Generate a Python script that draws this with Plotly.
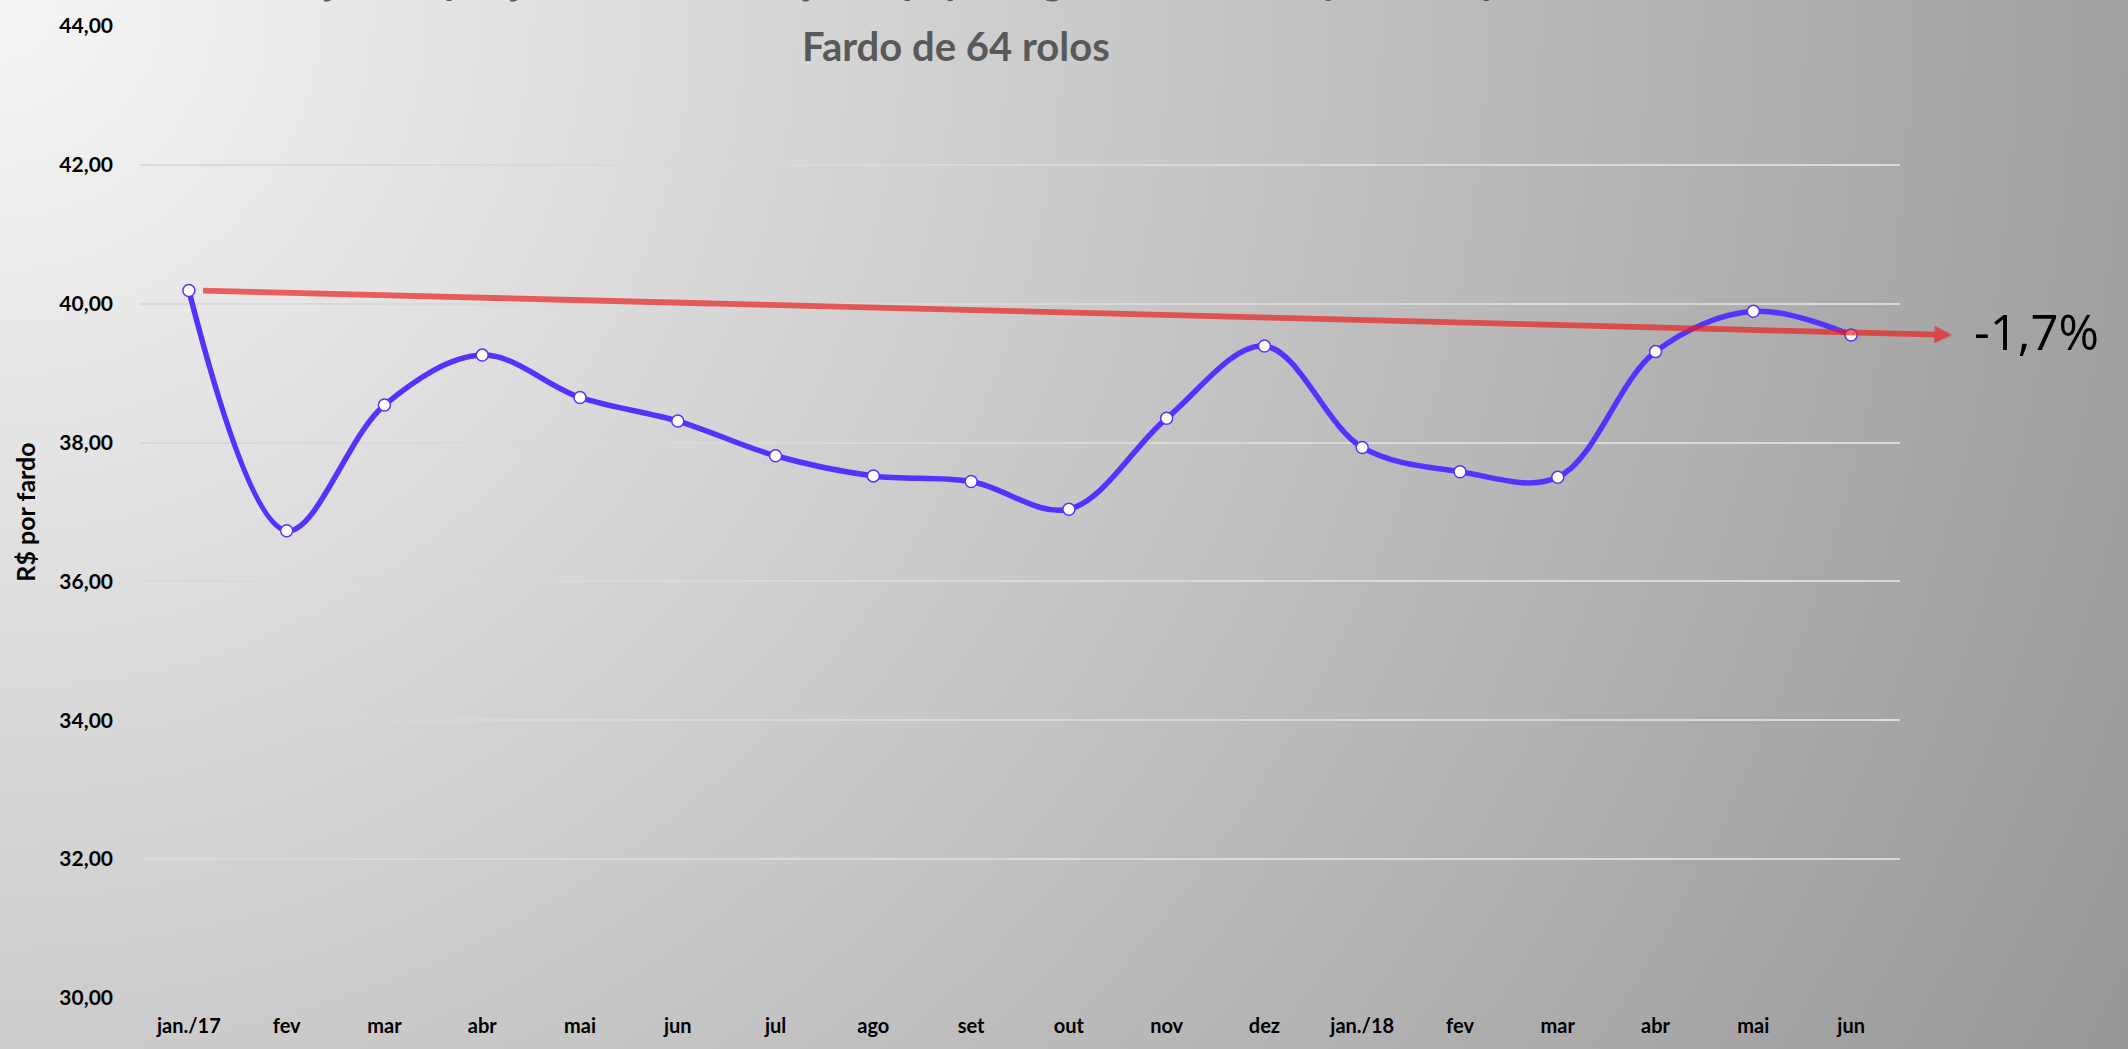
import base64
import plotly.graph_objects as go

# ---- data ----
month_labels = ["jan./17", "fev", "mar", "abr", "mai", "jun", "jul", "ago", "set",
                "out", "nov", "dez", "jan./18", "fev", "mar", "abr", "mai", "jun"]
price_per_bale = [40.19, 36.73, 38.54, 39.26, 38.65, 38.31, 37.81, 37.52, 37.44,
                  37.04, 38.35, 39.39, 37.93, 37.58, 37.50, 39.31, 39.89, 39.55]
y_tick_values = [30, 32, 34, 36, 38, 40, 42, 44]
y_tick_labels = ["30,00", "32,00", "34,00", "36,00", "38,00", "40,00", "42,00", "44,00"]
change_label = "-1,7%"
title_line1 = "Evolução do preço médio de varejo do papel higiênico folha dupla no supermercado"
title_line2 = "Fardo de 64 rolos"
y_title = "R$ por fardo"

# ---- layout geometry (pixels) ----
W, H = 2128, 1049
ML, MR, MT, MB = 140, 228, 20, 42
PW, PH = W - ML - MR, H - MT - MB
PAD = 20  # background image overhang

x_idx = list(range(len(month_labels)))

# radial gradient background as an inline svg image
BW, BH = W + 2 * PAD, H + 2 * PAD
svg = (f'<svg xmlns="http://www.w3.org/2000/svg" width="{BW}" height="{BH}" '
       f'viewBox="0 0 {BW} {BH}" preserveAspectRatio="none">'
       f'<defs><radialGradient id="g" cx="{PAD}" cy="{PAD}" r="2372" gradientUnits="userSpaceOnUse">'
       '<stop offset="0" stop-color="#f6f6f6"/><stop offset="1" stop-color="#979797"/>'
       '</radialGradient></defs>'
       f'<rect width="{BW}" height="{BH}" fill="url(#g)"/></svg>')
bg_src = "data:image/svg+xml;base64," + base64.b64encode(svg.encode()).decode()

fig = go.Figure()
fig.add_trace(go.Scatter(
    x=x_idx, y=price_per_bale, mode="lines+markers",
    line=dict(color="#5533FF", width=5.5, shape="spline", smoothing=1.0),
    marker=dict(size=12, color="white", line=dict(color="#5533FF", width=1.5)),
    cliponaxis=False, showlegend=False,
))

def px_to_paper_x(px):
    return (px - ML) / PW

def px_to_paper_y(py):
    return (H - MB - py) / PH

title_font = dict(family="Lato", size=40, color="#595959", weight="bold")
annotations = [
    # trend arrow from first to last value
    dict(x=len(month_labels) - 1 + 1.03, y=price_per_bale[-1],
         ax=0.13, ay=price_per_bale[0],
         xref="x", yref="y", axref="x", ayref="y",
         text="", showarrow=True, arrowhead=2, arrowsize=0.6, arrowwidth=5.8,
         arrowcolor="rgba(236,28,28,0.68)", standoff=0, startstandoff=0),
    dict(x=px_to_paper_x(1972), y=px_to_paper_y(330), xref="paper", yref="paper",
         xanchor="left", yanchor="middle", text=change_label, showarrow=False,
         font=dict(family="Open Sans", size=49, color="black")),
    dict(x=px_to_paper_x(956), y=px_to_paper_y(-28), xref="paper", yref="paper",
         xanchor="center", yanchor="middle", text=title_line1, showarrow=False,
         font=title_font),
    dict(x=px_to_paper_x(956), y=px_to_paper_y(40), xref="paper", yref="paper",
         xanchor="center", yanchor="middle", text=title_line2, showarrow=False,
         font=title_font),
]

fig.update_layout(
    width=W, height=H,
    margin=dict(l=ML, r=MR, t=MT, b=MB),
    paper_bgcolor="#c0c0c0",
    plot_bgcolor="rgba(0,0,0,0)",
    images=[dict(source=bg_src, xref="paper", yref="paper",
                 x=px_to_paper_x(-PAD), y=px_to_paper_y(-PAD),
                 sizex=BW / PW, sizey=BH / PH,
                 xanchor="left", yanchor="top", sizing="stretch", layer="below")],
    annotations=annotations,
    xaxis=dict(range=[-0.5, len(month_labels) - 0.5], tickvals=x_idx, ticktext=month_labels,
               showgrid=False, zeroline=False, showline=False, ticks="",
               ticklabelstandoff=14,
               tickfont=dict(family="Lato", size=20, color="black", weight="bold")),
    yaxis=dict(range=[30, 44], tickvals=y_tick_values, ticktext=y_tick_labels,
               showgrid=True, gridcolor="#d9d9d9", gridwidth=2,
               zeroline=False, showline=False, ticks="", ticklabelstandoff=26,
               tickfont=dict(family="Lato", size=21, color="black", weight="bold"),
               title=dict(text=y_title, standoff=16,
                          font=dict(family="Lato", size=25, color="black", weight="bold"))),
)

fig.write_html(
    "out.html",
    config={"displayModeBar": False},
    post_script=("document.body.style.margin='0';document.body.style.overflow='hidden';"
                 "document.body.style.background='#b4b4b4';"
                 "document.documentElement.style.background='#b4b4b4';"),
)
